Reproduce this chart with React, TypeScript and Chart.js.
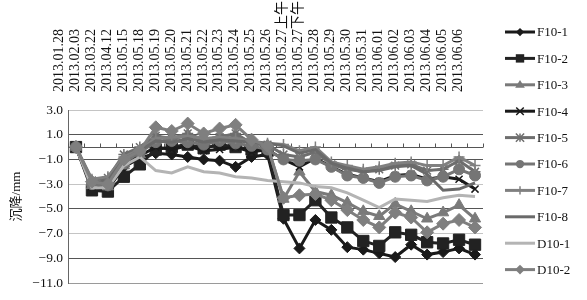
import React, { useEffect, useRef } from 'react';
import { Chart, registerables } from 'chart.js';

Chart.register(...registerables);

const categories = [
  '2013.01.28', '2013.02.03', '2013.03.22', '2013.04.12', '2013.05.15', '2013.05.18',
  '2013.05.19', '2013.05.20', '2013.05.21', '2013.05.22', '2013.05.23', '2013.05.24',
  '2013.05.25', '2013.05.26', '2013.05.27上午', '2013.05.27下午', '2013.05.28', '2013.05.29',
  '2013.05.30', '2013.05.31', '2013.06.01', '2013.06.02', '2013.06.03', '2013.06.04',
  '2013.06.05', '2013.06.06',
];

const yMin = -11;
const yMax = 3;
const yStep = 2;
const yTitle = '沉降/mm';

const seriesNames = ['F10-1', 'F10-2', 'F10-3', 'F10-4', 'F10-5', 'F10-6', 'F10-7', 'F10-8', 'D10-1', 'D10-2'];

const F10_1 = [0, -3.3, -3.4, -1.6, -0.9, -0.5, -0.6, -0.8, -1.0, -1.1, -1.6, -0.8, -0.6, -5.8, -8.2, -5.9, -6.7, -8.1, -8.3, -8.6, -8.9, -7.9, -8.7, -8.5, -8.2, -8.7];
const F10_2 = [0, -3.5, -3.6, -2.4, -1.4, -0.2, 0.0, 0.2, -0.1, 0.2, 0.0, -0.2, -0.3, -5.5, -5.5, -4.3, -5.7, -6.5, -7.6, -8.0, -6.9, -7.1, -7.7, -7.8, -7.5, -7.9];
const F10_3 = [0, -3.1, -3.2, -1.5, -0.6, 0.8, 0.6, 1.0, 0.5, 0.9, 1.0, 0.3, 0.1, -4.2, -2.0, -3.6, -3.9, -4.5, -5.2, -5.6, -4.6, -5.2, -5.8, -5.3, -4.7, -5.8];
const F10_4 = [0, -3.2, -3.0, -1.4, -0.7, 0.0, -0.2, 0.1, -0.3, -0.2, 0.0, -0.4, -0.2, -1.0, -1.6, -0.9, -1.6, -2.2, -2.5, -2.8, -2.3, -2.2, -2.6, -2.4, -2.6, -3.4];
const F10_5 = [0, -2.7, -2.5, -0.6, 0.0, 0.9, 0.7, 1.1, 0.6, 0.8, 1.1, 0.3, 0.2, -0.6, -0.8, -0.4, -1.4, -1.8, -2.0, -1.8, -1.5, -1.4, -1.9, -1.8, -1.1, -2.0];
const F10_6 = [0, -3.0, -3.1, -1.3, -0.4, 0.4, 0.5, 0.4, 0.2, 0.5, 0.3, 0.1, -0.2, -1.0, -1.1, -1.0, -1.6, -2.3, -2.5, -2.9, -2.4, -2.3, -2.7, -2.4, -1.8, -2.3];
const F10_7 = [0, -2.6, -2.4, -0.8, -0.2, 0.7, 0.8, 0.9, 0.7, 0.8, 0.7, 0.5, 0.3, 0.2, -0.3, 0.0, -1.2, -1.5, -1.8, -1.6, -1.3, -1.2, -1.5, -1.5, -0.8, -1.5];
const F10_8 = [0, -2.9, -2.7, -1.0, -0.3, 0.5, 0.4, 0.7, 0.4, 0.6, 0.5, 0.4, 0.3, 0.1, -0.5, -0.2, -1.3, -1.7, -2.0, -1.9, -1.6, -1.5, -2.2, -3.5, -3.4, -2.9];
const D10_1 = [0, -3.3, -3.3, -1.5, -0.8, -1.9, -2.1, -1.6, -2.0, -2.1, -2.4, -2.5, -2.7, -2.8, -2.9, -3.2, -3.3, -3.7, -4.3, -4.9, -4.2, -4.3, -4.4, -4.1, -3.9, -4.0];
const D10_2 = [0, -2.8, -3.0, -1.0, -0.3, 1.6, 1.3, 1.9, 1.1, 1.5, 1.8, 0.6, 0.1, -4.1, -3.9, -3.8, -4.3, -5.1, -5.9, -6.5, -5.3, -5.7, -6.9, -6.2, -5.9, -6.5];

const seriesData = [F10_1, F10_2, F10_3, F10_4, F10_5, F10_6, F10_7, F10_8, D10_1, D10_2];

type Style = { color: string; marker: string; radius: number; width: number };
const styles: Style[] = [
  { color: '#1a1a1a', marker: 'rectRot', radius: 5.5, width: 3 },
  { color: '#222222', marker: 'rect', radius: 8, width: 3 },
  { color: '#7a7a7a', marker: 'triangle', radius: 6.5, width: 3 },
  { color: '#1a1a1a', marker: 'crossRot', radius: 5, width: 3 },
  { color: '#6e6e6e', marker: 'star', radius: 5.5, width: 3 },
  { color: '#757575', marker: 'circle', radius: 5.5, width: 3 },
  { color: '#808080', marker: 'cross', radius: 5.5, width: 3 },
  { color: '#6a6a6a', marker: 'none', radius: 0, width: 3 },
  { color: '#b4b4b4', marker: 'none', radius: 0, width: 3 },
  { color: '#7f7f7f', marker: 'rectRot', radius: 6.5, width: 3 },
];

const SERIF = "'Liberation Serif', 'Times New Roman', 'Noto Sans CJK SC', serif";

function drawMarker(ctx: CanvasRenderingContext2D, kind: string, x: number, y: number, r: number, color: string) {
  ctx.save();
  ctx.fillStyle = color;
  ctx.strokeStyle = color;
  ctx.lineWidth = 1.5;
  ctx.beginPath();
  if (kind === 'rectRot') {
    ctx.moveTo(x, y - r); ctx.lineTo(x + r, y); ctx.lineTo(x, y + r); ctx.lineTo(x - r, y); ctx.closePath(); ctx.fill();
  } else if (kind === 'rect') {
    const s = r * 0.7;
    ctx.rect(x - s, y - s, 2 * s, 2 * s); ctx.fill();
  } else if (kind === 'triangle') {
    ctx.moveTo(x, y - r); ctx.lineTo(x + r, y + r * 0.6); ctx.lineTo(x - r, y + r * 0.6); ctx.closePath(); ctx.fill();
  } else if (kind === 'circle') {
    ctx.arc(x, y, r, 0, Math.PI * 2); ctx.fill();
  } else if (kind === 'crossRot') {
    ctx.moveTo(x - r, y - r); ctx.lineTo(x + r, y + r); ctx.moveTo(x + r, y - r); ctx.lineTo(x - r, y + r); ctx.stroke();
  } else if (kind === 'cross') {
    ctx.moveTo(x, y - r); ctx.lineTo(x, y + r); ctx.stroke();
  } else if (kind === 'star') {
    ctx.moveTo(x - r, y - r); ctx.lineTo(x + r, y + r); ctx.moveTo(x + r, y - r); ctx.lineTo(x - r, y + r);
    ctx.moveTo(x, y - r); ctx.lineTo(x, y + r); ctx.stroke();
  }
  ctx.restore();
}

const axisPlugin = {
  id: 'zeroAxis',
  beforeDatasetsDraw(chart: any) {
    const ctx = chart.ctx;
    const xs = chart.scales.x;
    const ys = chart.scales.y;
    const y0 = Math.round(ys.getPixelForValue(0)) + 0.5;
    ctx.save();
    ctx.strokeStyle = '#555';
    ctx.lineWidth = 1;
    ctx.beginPath();
    ctx.moveTo(chart.chartArea.left, y0);
    ctx.lineTo(chart.chartArea.right, y0);
    const n = categories.length;
    for (let i = 0; i <= n; i++) {
      const x = Math.round(xs.left + (i * xs.width) / n) + 0.5;
      ctx.moveTo(x, y0 - 4);
      ctx.lineTo(x, y0);
    }
    ctx.stroke();
    ctx.restore();
  },
};

const legendPlugin = {
  id: 'sideLegend',
  afterDraw(chart: any) {
    const ctx = chart.ctx;
    ctx.save();
    const x0 = 505;
    const x1 = 535;
    const startY = 32;
    const step = 26.4;
    seriesNames.forEach((name, i) => {
      const st = styles[i];
      const y = startY + i * step;
      ctx.strokeStyle = st.color;
      ctx.lineWidth = 3;
      ctx.beginPath();
      ctx.moveTo(x0, y);
      ctx.lineTo(x1, y);
      ctx.stroke();
      if (st.marker !== 'none') drawMarker(ctx, st.marker, (x0 + x1) / 2, y, Math.max(3.5, st.radius * 0.75), st.color);
      ctx.fillStyle = '#111';
      ctx.font = `13px ${SERIF}`;
      ctx.textAlign = 'left';
      ctx.textBaseline = 'middle';
      ctx.fillText(name, x1 + 2, y + 1);
    });
    ctx.restore();
  },
};

function gridColor(v: number) {
  if (v === 3 || v === -3 || v === -7) return '#c4c4c4';
  if (v === -11) return '#9a9a9a';
  return '#555555';
}

export default function App() {
  const canvasRef = useRef<HTMLCanvasElement>(null);

  useEffect(() => {
    if (!canvasRef.current) return;
    const n = seriesData.length;
    const datasets = seriesData.map((data, i) => {
      const st = styles[i];
      return {
        label: seriesNames[i],
        data,
        borderColor: st.color,
        backgroundColor: st.color,
        borderWidth: st.width,
        pointStyle: st.marker === 'none' ? false : st.marker,
        pointRadius: st.radius,
        pointBorderWidth: st.marker === 'crossRot' || st.marker === 'cross' || st.marker === 'star' ? 1.5 : 1,
        pointBackgroundColor: st.color,
        pointBorderColor: st.color,
        tension: 0,
        order: n - i,
      };
    });
    const chart = new Chart(canvasRef.current, {
      type: 'line',
      data: { labels: categories, datasets: datasets as any },
      options: {
        animation: false,
        responsive: true,
        maintainAspectRatio: false,
        layout: { padding: { left: 0, right: 104, top: 0, bottom: 17 } },
        plugins: { legend: { display: false }, tooltip: { enabled: false } },
        scales: {
          x: {
            type: 'category',
            position: 'top',
            offset: true,
            grid: { display: false },
            border: { display: false },
            ticks: {
              autoSkip: false,
              minRotation: 90,
              maxRotation: 90,
              padding: 10,
              color: '#111',
              font: { family: SERIF, size: 14 },
            },
            afterFit: (scale: any) => { scale.height = 110; },
          },
          y: {
            min: yMin,
            max: yMax,
            ticks: {
              stepSize: yStep,
              padding: 5,
              color: '#111',
              font: { family: SERIF, size: 13.5 },
              callback: (v: any) => {
                const num = Number(v);
                const s = Math.abs(num).toFixed(1);
                return num < 0 ? '\u2212' + s : s;
              },
            },
            grid: {
              drawTicks: false,
              color: (c: any) => gridColor(c.tick ? c.tick.value : 0),
              lineWidth: 1,
            },
            border: { display: true, color: '#666', width: 1 },
            title: {
              display: true,
              text: yTitle,
              color: '#111',
              font: { family: SERIF, size: 13 },
              padding: { top: 9, bottom: 0 },
            },
            afterFit: (scale: any) => { scale.width = 68; },
          },
        },
      },
      plugins: [axisPlugin, legendPlugin],
    });
    return () => chart.destroy();
  }, []);

  return (
    <div style={{ position: 'absolute', left: 0, top: 0, width: 587, height: 300, background: '#fff' }}>
      <canvas ref={canvasRef} />
    </div>
  );
}
